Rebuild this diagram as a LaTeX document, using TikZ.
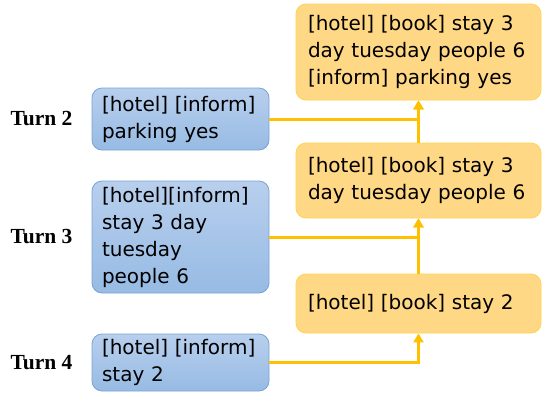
\documentclass[tikz,border=0pt]{standalone}
\usepackage{fontspec}
\setmainfont{Liberation Serif}
\newfontfamily\boxfont{DejaVu Sans}
\usepackage{tikz}
\usetikzlibrary{arrows.meta,positioning}
\definecolor{turnblueT}{RGB}{184,207,237}
\definecolor{turnblueB}{RGB}{151,187,228}
\definecolor{turnblueD}{RGB}{122,163,212}
\definecolor{stateor}{RGB}{255,216,134}
\definecolor{stateorD}{RGB}{255,192,0}

\begin{document}
\begin{tikzpicture}[x=1pt,y=-1pt,
    turnlabel/.style={font=\bfseries\fontsize{21.5}{24}\selectfont},
    turnbox/.style={draw=turnblueD, line width=0.8pt, rounded corners=10pt,
        top color=turnblueT, bottom color=turnblueB,
        font=\boxfont\fontsize{20}{27}\selectfont, align=left,
        text width=157pt, inner xsep=10pt, inner ysep=4pt, minimum width=177pt},
    statebox/.style={draw=stateorD!70, line width=0.8pt, rounded corners=10pt,
        fill=stateor, font=\boxfont\fontsize{20}{27}\selectfont, align=left,
        text width=221pt, inner xsep=12pt, inner ysep=4pt, minimum width=245pt},
    flow/.style={draw=stateorD, line width=3pt,
        -{Triangle[width=10pt,length=9pt]}}]
\useasboundingbox (0,0) rectangle (542,392);
% dialogue turns (left)
\node[turnbox, minimum height=62pt] (b2) at (180.5,119) {[hotel] [inform]\\parking yes};
\node[turnbox, minimum height=112pt] (b3) at (180.5,237) {[hotel][inform]\\stay 3 day\\tuesday\\people 6};
\node[turnbox, minimum height=57pt] (b4) at (180.5,362.5) {[hotel] [inform]\\stay 2};
\node[turnlabel] (t2) at (41.5,119) {Turn 2};
\node[turnlabel] (t3) at (41.5,237) {Turn 3};
\node[turnlabel] (t4) at (41.5,362.5) {Turn 4};
% dialogue states (right)
\node[statebox, minimum height=96pt] (o1) at (418.5,52) {[hotel] [book] stay 3\\day tuesday people 6\\{}[inform] parking yes};
\node[statebox, minimum height=75pt] (o2) at (418.5,180.5) {[hotel] [book] stay 3\\day tuesday people 6};
\node[statebox, minimum height=59pt] (o3) at (418.5,303.5) {[hotel] [book] stay 2};
% updates
\draw[flow] (o3.north) -- (o2.south);
\draw[flow] (o2.north) -- (o1.south);
\draw[flow] (b2.east) -| (o1.south);
\draw[flow] (b3.east) -| (o2.south);
\draw[flow] (b4.east) -| (o3.south);
\end{tikzpicture}
\end{document}
